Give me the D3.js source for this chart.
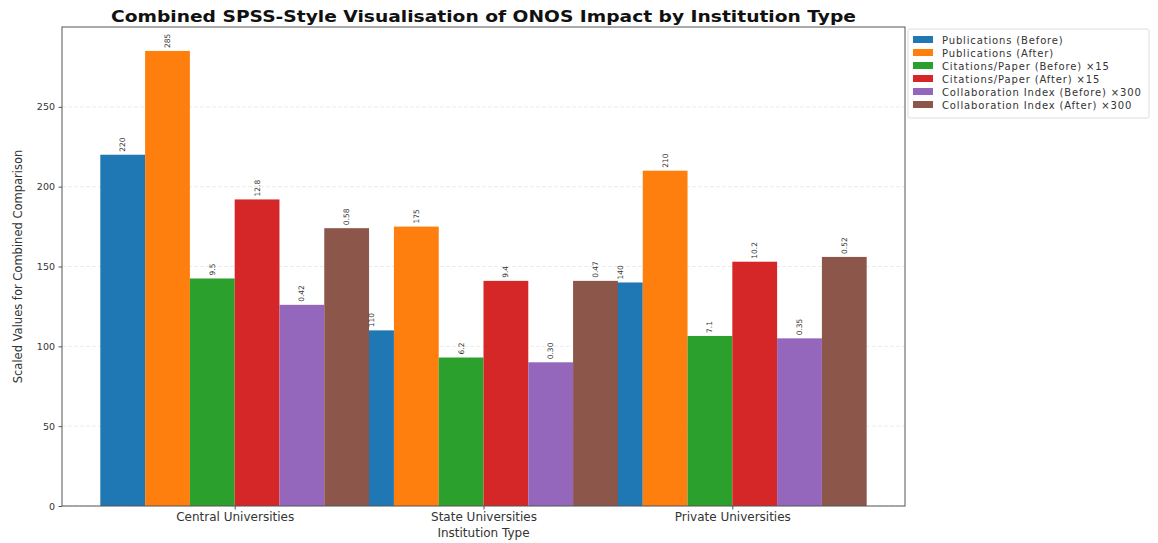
<!DOCTYPE html>
<html>
<head>
<meta charset="utf-8">
<script src="https://cdnjs.cloudflare.com/ajax/libs/d3/7.8.5/d3.min.js"></script>
<style>
  body { margin: 0; background: #fff; }
  text { font-family: "DejaVu Sans", sans-serif; }
</style>
</head>
<body>
<div id="chart_div"></div>
<script>
// data
const institutions = ["Central Universities", "State Universities", "Private Universities"];
const pubs_before = [220, 110, 140];
const pubs_after = [285, 175, 210];
const cites_before = [9.5, 6.2, 7.1];
const cites_after = [12.8, 9.4, 10.2];
const collab_before = [0.42, 0.30, 0.35];
const collab_after = [0.58, 0.47, 0.52];
const cite_scale = 15;
const collab_scale = 300;
const y_ticks = [0, 50, 100, 150, 200, 250];
const series_names = ["Publications (Before)", "Publications (After)",
  "Citations/Paper (Before) ×15", "Citations/Paper (After) ×15",
  "Collaboration Index (Before) ×300", "Collaboration Index (After) ×300"];
const series_colors = ["#1f77b4", "#ff7f0e", "#2ca02c", "#d62728", "#9467bd", "#8c564b"];

// build series: raw value for the label, scaled value for the bar height
const series = [
  {raw: pubs_before, k: 1, fmt: d3.format("d")},
  {raw: pubs_after, k: 1, fmt: d3.format("d")},
  {raw: cites_before, k: cite_scale, fmt: d3.format(".1f")},
  {raw: cites_after, k: cite_scale, fmt: d3.format(".1f")},
  {raw: collab_before, k: collab_scale, fmt: d3.format(".2f")},
  {raw: collab_after, k: collab_scale, fmt: d3.format(".2f")}
].map((s, i) => ({name: series_names[i], color: series_colors[i], idx: i,
  values: s.raw.map((v, j) => ({cat: j, raw: s.fmt(v), val: v * s.k}))}));

const W = 1158, H = 543;
const margin = {top: 27, right: 253, bottom: 37, left: 62};
const width = W - margin.left - margin.right,
      height = H - margin.top - margin.bottom;

const svg = d3.select("#chart_div").append("svg")
    .attr("width", W).attr("height", H);
const g = svg.append("g")
    .attr("transform", `translate(${margin.left}, ${margin.top})`);

const bar_w = 0.18;
const x = d3.scaleLinear().domain([-0.694, 2.694]).range([0, width]);
const y = d3.scaleLinear().domain([0, 300]).range([height, 0]);

// grid
g.append("g").selectAll("line").data(y_ticks).join("line")
    .attr("x1", 0).attr("x2", width)
    .attr("y1", d => y(d)).attr("y2", d => y(d))
    .attr("stroke", "#b0b0b0").attr("stroke-opacity", 0.3)
    .attr("stroke-dasharray", "4,2").attr("stroke-width", 0.8);

// bars, drawn series by series
series.forEach(s => {
  const off = (s.idx - 2.5) * bar_w;
  g.append("g").selectAll("rect").data(s.values).join("rect")
      .attr("x", d => x(d.cat + off - bar_w / 2))
      .attr("width", x(bar_w) - x(0))
      .attr("y", d => y(d.val))
      .attr("height", d => y(0) - y(d.val))
      .attr("fill", s.color);
});
series.forEach(s => {
  const off = (s.idx - 2.5) * bar_w;
  g.append("g").selectAll("text").data(s.values).join("text")
      .attr("transform", d => `translate(${x(d.cat + off) + 2.5}, ${y(d.val) - 3}) rotate(-90)`)
      .attr("font-size", "7.5px").attr("fill", "#333")
      .text(d => d.raw);
});

// axes
const yAxis = g.append("g")
    .call(d3.axisLeft(y).tickValues(y_ticks).tickSize(3.5).tickPadding(3.5));
yAxis.selectAll("text").attr("font-size", "9.5px").attr("fill", "#333")
    .style("font-family", "DejaVu Sans");
const xAxis = g.append("g").attr("transform", `translate(0, ${height})`)
    .call(d3.axisBottom(x).tickValues([0, 1, 2]).tickFormat(i => institutions[i]).tickSize(3.5).tickPadding(3));
xAxis.selectAll("text").attr("font-size", "12px").attr("fill", "#333")
    .style("font-family", "DejaVu Sans");
g.selectAll(".domain").remove();
g.selectAll(".tick line").attr("stroke", "#555");

// frame
g.append("rect").attr("width", width).attr("height", height)
    .attr("fill", "none").attr("stroke", "#555").attr("stroke-width", 1);

// title and labels
svg.append("text")
    .attr("x", margin.left + width / 2).attr("y", 22)
    .attr("text-anchor", "middle").attr("font-size", "15.5px").attr("font-weight", "bold")
    .attr("fill", "#111")
    .attr("textLength", 745).attr("lengthAdjust", "spacingAndGlyphs")
    .text("Combined SPSS-Style Visualisation of ONOS Impact by Institution Type");
svg.append("text")
    .attr("x", margin.left + width / 2).attr("y", 537)
    .attr("text-anchor", "middle").attr("font-size", "12px").attr("fill", "#333")
    .text("Institution Type");
svg.append("text")
    .attr("transform", `translate(22, ${margin.top + height / 2}) rotate(-90)`)
    .attr("text-anchor", "middle").attr("font-size", "11.5px").attr("fill", "#333")
    .text("Scaled Values for Combined Comparison");

// legend
const lg = svg.append("g").attr("transform", "translate(908, 29)");
lg.append("rect").attr("width", 241).attr("height", 89).attr("rx", 2)
    .attr("fill", "#fff").attr("stroke", "#ddd");
const item = lg.selectAll("g.item").data(series).join("g").attr("class", "item")
    .attr("transform", (d, i) => `translate(5, ${7 + i * 13})`);
item.append("rect").attr("width", 20).attr("height", 7).attr("fill", d => d.color);
item.append("text").attr("x", 29).attr("y", 7.5).attr("font-size", "10px").attr("fill", "#333")
    .attr("letter-spacing", "0.85px")
    .text(d => d.name);
</script>
</body>
</html>
